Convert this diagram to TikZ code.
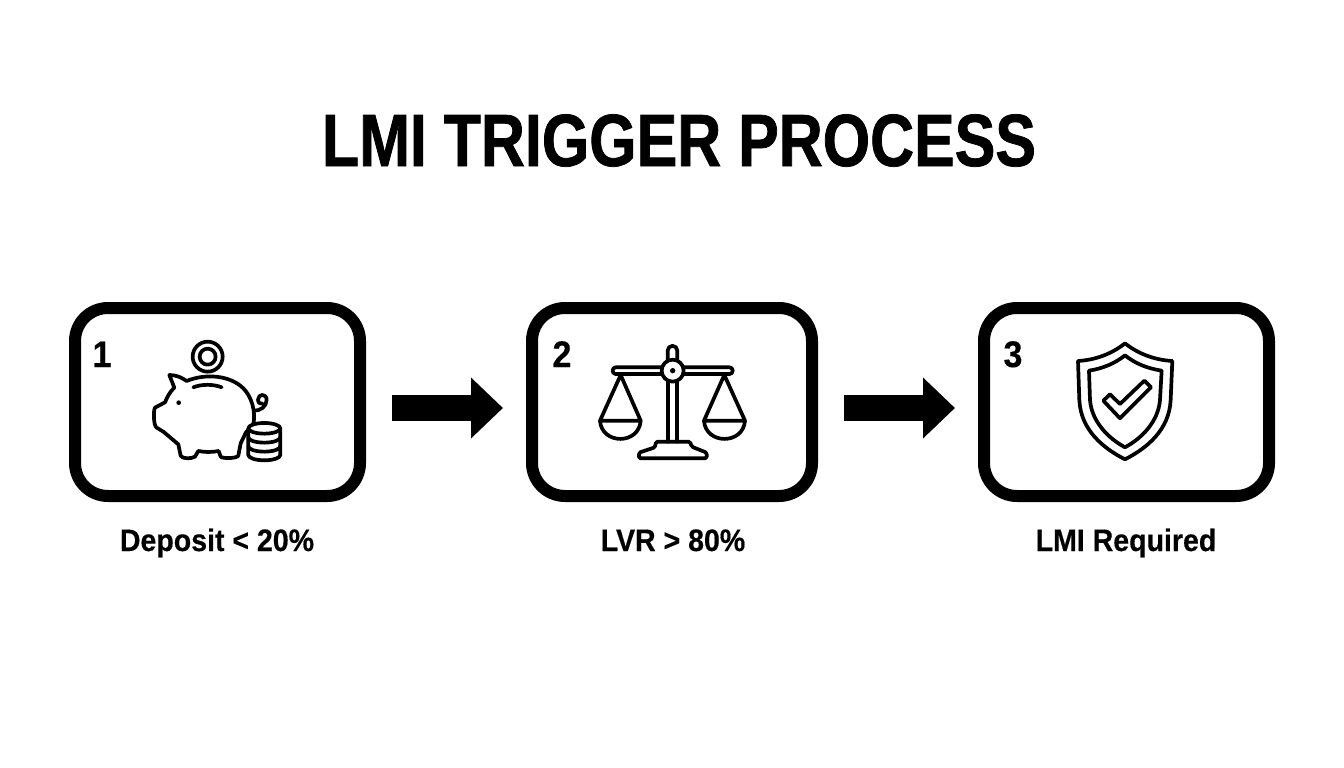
\documentclass[tikz,border=0pt]{standalone}
\usepackage{fontspec}
\setmainfont{Liberation Sans}
\newfontfamily\titlefont[FakeStretch=0.823,FakeBold=1]{Liberation Sans}
\newfontfamily\capfont[FakeStretch=0.92,FakeBold=0.4]{Liberation Sans}
\usetikzlibrary{arrows.meta}
\tikzset{
  card/.style={draw=black,line width=12pt,rounded corners=33pt,fill=white,inner sep=0pt},
  flow/.style={line width=26pt,-{Triangle[length=32pt,width=59pt]}},
  numtext/.style={font=\capfont\bfseries\fontsize{37}{37}\selectfont,inner sep=0pt,anchor=base},
  captext/.style={font=\capfont\bfseries\fontsize{31}{31}\selectfont,inner sep=0pt,anchor=base},
  icon/.style={line width=3.7pt,line join=round,line cap=round},
}
\begin{document}
\begin{tikzpicture}[x=1pt,y=-1pt]
\useasboundingbox (0,0) rectangle (1344,768);
\fill[white] (0,0) rectangle (1344,768);
\node[font=\titlefont\bfseries\fontsize{74}{74}\selectfont,inner sep=0pt,anchor=base] (title) at (679,166) {LMI TRIGGER PROCESS};
% boxes
\node[card,minimum width=285pt,minimum height=188pt] (b1) at (217.5,402) {};
\node[card,minimum width=280pt,minimum height=188pt] (b2) at (672,402) {};
\node[card,minimum width=285pt,minimum height=188pt] (b3) at (1126.5,402) {};
\node[numtext] (n1) at (102,367) {1};
\node[numtext] (n2) at (562,367) {2};
\node[numtext] (n3) at (1013,367) {3};
\node[captext] (c1) at (217,551) {Deposit < 20\%};
\node[captext] (c2) at (673,551) {LVR > 80\%};
\node[captext] (c3) at (1126,551) {LMI Required};
% arrows
\coordinate (a1s) at (392,408);
\coordinate (a1e) at (503,408);
\coordinate (a2s) at (844,408);
\coordinate (a2e) at (955,408);
\draw[flow] (a1s) -- (a1e);
\draw[flow] (a2s) -- (a2e);
% piggy icon
\begin{scope}[icon,shift={(130,325)},x=0.3333pt,y=-0.3333pt]
\draw (233,95) circle[radius=45];
\draw (233,95) circle[radius=24];
\draw (118,150) .. controls (140,150) and (155,158) .. (170,168)
  .. controls (225,145) and (300,150) .. (340,190)
  .. controls (365,215) and (378,260) .. (370,298)
  -- (348,322) -- (332,355) -- (325,392) .. controls (322,400) and (280,402) .. (272,395)
  -- (266,378) .. controls (245,382) and (225,382) .. (205,378)
  -- (195,395) .. controls (185,402) and (155,402) .. (152,392)
  -- (145,358) -- (100,320) -- (80,308) .. controls (70,302) and (70,255) .. (75,248)
  -- (105,232) .. controls (112,215) and (120,200) .. (133,188) -- cycle;
\draw (190,187) .. controls (215,177) and (250,177) .. (275,187);
\fill (146,233) circle[radius=7];
\draw (372,257) .. controls (390,258) and (410,245) .. (410,225)
  .. controls (410,205) and (385,205) .. (384,224) .. controls (384,234) and (392,238) .. (398,236);
% coins
\draw[fill=white] (355,310) -- (355,390) arc[start angle=180,end angle=0,x radius=48,y radius=16] -- (451,310) arc[start angle=0,end angle=-180,x radius=48,y radius=16];
\draw (355,310) arc[start angle=180,end angle=0,x radius=48,y radius=16];
\draw (355,337) arc[start angle=180,end angle=0,x radius=48,y radius=16];
\draw (355,364) arc[start angle=180,end angle=0,x radius=48,y radius=16];
\end{scope}
% scales icon
\begin{scope}[icon,shift={(590,330)},x=0.3333pt,y=-0.3333pt]
\draw[rounded corners=3pt] (68,112) rectangle (428,132);
\draw (233,95) -- (233,62) arc[start angle=180,end angle=360,radius=14.5] -- (262,95);
\draw (233,150) -- (233,335) (262,150) -- (262,335);
\draw[fill=white] (248,122) circle[radius=33];
\fill (248,122) circle[radius=8];
\draw (92,135) -- (30,272) -- (152,272) -- cycle;
\draw (30,272) .. controls (35,345) and (147,345) .. (152,272);
\draw (403,135) -- (342,272) -- (465,272) -- cycle;
\draw (342,272) .. controls (347,345) and (460,345) .. (465,272);
\draw[rounded corners=1.5pt] (147,385) -- (147,368) -- (195,352) -- (198,335) -- (300,335) -- (305,350) -- (350,368) -- (350,385) -- cycle;
\end{scope}
% shield icon
\begin{scope}[icon,shift={(1050,330)},x=0.3333pt,y=-0.3333pt]
\draw (225,40) .. controls (185,72) and (135,90) .. (84,93)
  -- (88,210) .. controls (92,300) and (160,355) .. (225,388)
  .. controls (290,355) and (358,300) .. (362,210)
  -- (367,93) .. controls (315,90) and (265,72) .. (225,40) -- cycle;
\draw (225,76) .. controls (195,100) and (160,115) .. (117,122)
  -- (120,210) .. controls (125,275) and (175,325) .. (225,352)
  .. controls (275,325) and (325,275) .. (330,210)
  -- (335,122) .. controls (290,115) and (255,100) .. (225,76) -- cycle;
\draw (160,212) -- (180,193) -- (210,222) -- (283,152) -- (303,172) -- (210,265) -- cycle;
\end{scope}
\end{tikzpicture}
\end{document}
